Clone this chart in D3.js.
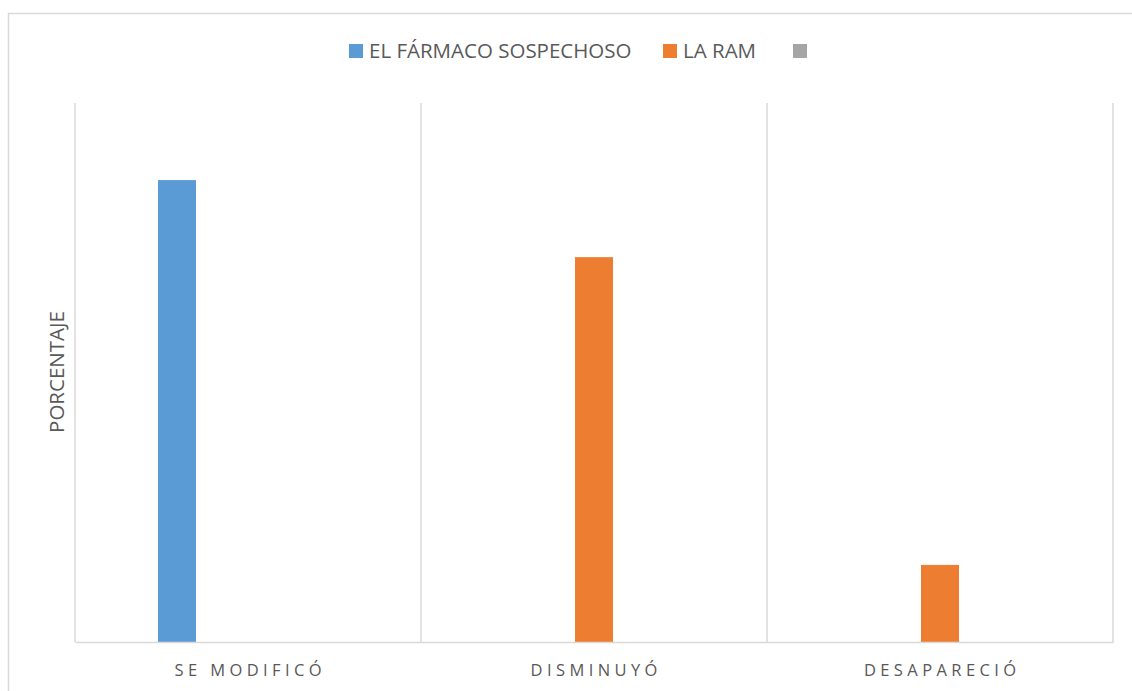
<!DOCTYPE html>
<html>
<head>
<meta charset="utf-8">
<script src="https://cdn.jsdelivr.net/npm/d3@7"></script>
<style>
  body { margin: 0; background: #fff; }
  text { font-family: "Open Sans", sans-serif; fill: #595959; }
</style>
</head>
<body>
<div id="chart"></div>
<script>
// data (percent)
const categories = ["SE MODIFICÓ", "DISMINUYÓ", "DESAPARECIÓ"];
const seriesNames = ["EL FÁRMACO SOSPECHOSO", "LA RAM", ""];
const farmacoValues = [85.7, 0, 0];
const ramValues = [0, 71.4, 14.3];
const otherValues = [0, 0, 0];
const seriesColors = ["#5B9BD5", "#ED7D31", "#A5A5A5"];

const WIDTH = 1132;
const HEIGHT = 691;
const margin = { top: 103, right: 19, bottom: 49, left: 75 };

const svg = d3.select("#chart")
    .append("svg")
    .attr("width", WIDTH)
    .attr("height", HEIGHT);

// outer chart border
svg.append("rect")
    .attr("x", 8.5)
    .attr("y", 13.5)
    .attr("width", WIDTH + 10)
    .attr("height", HEIGHT + 10)
    .attr("fill", "none")
    .attr("stroke", "#d9d9d9")
    .attr("stroke-width", 1.5);

const x0 = d3.scaleBand()
    .domain(categories)
    .range([margin.left, WIDTH - margin.right]);

const y = d3.scaleLinear()
    .domain([0, 100])
    .range([HEIGHT - margin.bottom, margin.top]);

// series slots inside each category: step 71, bar 38
const x1 = d3.scaleBand()
    .domain(d3.range(seriesNames.length))
    .range([-106.5, 106.5])
    .paddingInner(0.465)
    .paddingOuter(0.2325);

// vertical gridlines at category boundaries
const bounds = categories.map(c => x0(c)).concat([x0.range()[1]]);
svg.append("g")
    .selectAll("line")
    .data(bounds)
    .enter()
    .append("line")
    .attr("x1", d => d)
    .attr("x2", d => d)
    .attr("y1", y(100))
    .attr("y2", y(0))
    .attr("stroke", "#d9d9d9")
    .attr("stroke-width", 1.5);

// bars
const allValues = [farmacoValues, ramValues, otherValues];
const rows = [];
categories.forEach((c, i) => {
    allValues.forEach((vals, s) => {
        rows.push({ cat: c, s: s, v: vals[i] });
    });
});

svg.append("g")
    .selectAll("rect")
    .data(rows.filter(d => d.v > 0))
    .enter()
    .append("rect")
    .attr("x", d => x0(d.cat) + x0.bandwidth() / 2 + x1(d.s))
    .attr("width", x1.bandwidth())
    .attr("y", d => y(d.v))
    .attr("height", d => y(0) - y(d.v))
    .attr("fill", d => seriesColors[d.s]);

// x axis
const LABEL_SPACING = 4.4;
const xAxis = svg.append("g")
    .attr("transform", `translate(0,${y(0)})`)
    .call(d3.axisBottom(x0).tickSize(0).tickPadding(22));

xAxis.select(".domain")
    .attr("stroke", "#d9d9d9")
    .attr("stroke-width", 1.5);

xAxis.selectAll("text")
    .attr("x", LABEL_SPACING / 2) // letter-spacing leaves a trailing gap
    .style("font-family", "'Open Sans', sans-serif")
    .style("font-size", "16.5px")
    .style("letter-spacing", LABEL_SPACING + "px")
    .attr("fill", "#595959");

// y axis title
svg.append("text")
    .attr("transform", `translate(64,372) rotate(-90)`)
    .attr("text-anchor", "middle")
    .style("font-size", "20.5px")
    .text("PORCENTAJE");

// legend
const legendItems = [
    { name: seriesNames[0], color: seriesColors[0], x: 349 },
    { name: seriesNames[1], color: seriesColors[1], x: 663 },
    { name: seriesNames[2], color: seriesColors[2], x: 793 }
];

const legend = svg.append("g")
    .selectAll("g")
    .data(legendItems)
    .enter()
    .append("g")
    .attr("transform", d => `translate(${d.x},44)`);

legend.append("rect")
    .attr("width", 14)
    .attr("height", 14)
    .attr("fill", d => d.color);

legend.append("text")
    .attr("x", 20)
    .attr("y", 14)
    .style("font-size", "20.5px")
    .text(d => d.name);
</script>
</body>
</html>
